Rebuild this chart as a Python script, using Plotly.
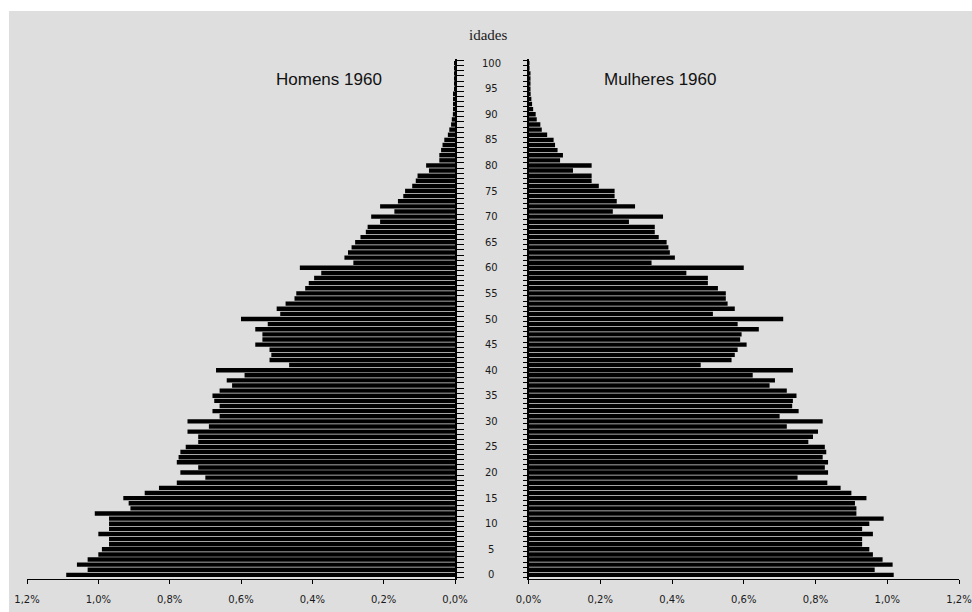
import plotly.graph_objects as go

ages = list(range(0, 101))

homens = [1.09, 1.03, 1.06, 1.03, 1.00, 0.99, 0.97, 0.97, 1.00, 0.97,
          0.97, 0.97, 1.01, 0.91, 0.915, 0.93, 0.87, 0.83, 0.78, 0.70,
          0.77, 0.72, 0.78, 0.775, 0.77, 0.755, 0.72, 0.72, 0.75, 0.69,
          0.75, 0.66, 0.68, 0.66, 0.675, 0.68, 0.66, 0.625, 0.64, 0.59,
          0.67, 0.465, 0.52, 0.515, 0.52, 0.56, 0.54, 0.54, 0.56, 0.525,
          0.60, 0.49, 0.50, 0.475, 0.45, 0.445, 0.42, 0.41, 0.395, 0.375,
          0.435, 0.285, 0.31, 0.30, 0.29, 0.28, 0.265, 0.25, 0.245, 0.21,
          0.235, 0.17, 0.21, 0.16, 0.145, 0.14, 0.12, 0.11, 0.105, 0.073,
          0.081, 0.044, 0.044, 0.039, 0.035, 0.03, 0.02, 0.016, 0.011, 0.009,
          0.006, 0.005, 0.004, 0.003, 0.003, 0.002, 0.002, 0.001, 0.001, 0.001,
          0.001]

mulheres = [1.018, 0.965, 1.015, 0.987, 0.96, 0.95, 0.93, 0.93, 0.96, 0.93,
            0.95, 0.99, 0.914, 0.914, 0.91, 0.942, 0.90, 0.87, 0.833, 0.75,
            0.835, 0.826, 0.835, 0.82, 0.83, 0.826, 0.78, 0.793, 0.807, 0.72,
            0.82, 0.70, 0.753, 0.735, 0.737, 0.747, 0.72, 0.672, 0.687, 0.625,
            0.737, 0.48, 0.566, 0.575, 0.583, 0.608, 0.59, 0.594, 0.642, 0.583,
            0.71, 0.514, 0.575, 0.555, 0.55, 0.55, 0.528, 0.50, 0.50, 0.44,
            0.60, 0.343, 0.408, 0.394, 0.39, 0.385, 0.363, 0.352, 0.352, 0.28,
            0.375, 0.235, 0.297, 0.246, 0.24, 0.24, 0.196, 0.176, 0.176, 0.124,
            0.176, 0.088, 0.096, 0.081, 0.074, 0.07, 0.052, 0.037, 0.033, 0.023,
            0.02, 0.013, 0.01, 0.008, 0.006, 0.005, 0.004, 0.003, 0.003, 0.002,
            0.002]

x_ticks = [0.0, 0.2, 0.4, 0.6, 0.8, 1.0, 1.2]
x_tick_labels = ["0,0%", "0,2%", "0,4%", "0,6%", "0,8%", "1,0%", "1,2%"]
age_labels = list(range(0, 101, 5))

title_left = "Homens 1960"
title_right = "Mulheres 1960"
axis_title = "idades"

BG = "#dedede"
INK = "#1a1a1a"
tickfont = dict(family="DejaVu Sans", size=10, color=INK)

fig = go.Figure()
fig.add_trace(go.Bar(y=ages, x=homens, orientation="h", xaxis="x", yaxis="y",
                     marker=dict(color="black", line=dict(width=0)), showlegend=False))
fig.add_trace(go.Bar(y=ages, x=mulheres, orientation="h", xaxis="x2", yaxis="y2",
                     marker=dict(color="black", line=dict(width=0)), showlegend=False))

W, H = 972, 612
ml, mr, mt, mb = 27, 13, 59, 33
pw = W - ml - mr
ph = H - mt - mb

def px(xp):
    return (xp - ml) / pw

def py(yp):
    return (H - mb - yp) / ph

xcommon = dict(tickvals=x_ticks, ticktext=x_tick_labels, showline=True,
               linecolor="black", linewidth=1, ticks="outside", ticklen=4,
               tickcolor="black", showgrid=False, zeroline=False, tickfont=tickfont,
               ticklabelstandoff=7, automargin=False, fixedrange=True)

ycommon = dict(range=[-0.8, 100.8], showline=True, linecolor="black", linewidth=1.5,
               ticks="outside", tickcolor="black", tickmode="linear", tick0=0.5, dtick=1,
               showticklabels=False, showgrid=False, zeroline=False,
               automargin=False, fixedrange=True)

fig.update_layout(
    width=W, height=H,
    margin=dict(l=ml, r=mr, t=mt, b=mb, autoexpand=False),
    paper_bgcolor="white", plot_bgcolor="rgba(0,0,0,0)",
    bargap=0.14,
    xaxis=dict(domain=[0, px(455)], range=[1.2, 0], anchor="y", **xcommon),
    xaxis2=dict(domain=[px(528.5), 1], range=[0, 1.2], anchor="y2", **xcommon),
    yaxis=dict(anchor="x", side="right", ticklen=7, **ycommon),
    yaxis2=dict(anchor="x2", side="left", ticklen=4, **ycommon),
)

shapes = [
    dict(type="rect", xref="paper", yref="paper", x0=px(9), x1=px(W),
         y0=py(H), y1=py(11), fillcolor=BG, line=dict(width=0), layer="below"),
]
fig.update_layout(shapes=shapes)

ann = []
for a in age_labels:
    ann.append(dict(x=px(491), xref="paper", y=a, yref="y", text=str(a),
                    showarrow=False, xanchor="center", yanchor="middle",
                    font=dict(family="DejaVu Sans", size=10, color=INK)))
ann.append(dict(x=px(329), xref="paper", y=py(80), yref="paper", text=title_left,
                showarrow=False, xanchor="center", yanchor="middle",
                font=dict(family="Liberation Sans", size=17, color="#111111")))
ann.append(dict(x=px(660), xref="paper", y=py(80), yref="paper", text=title_right,
                showarrow=False, xanchor="center", yanchor="middle",
                font=dict(family="Liberation Sans", size=17, color="#111111")))
ann.append(dict(x=px(488), xref="paper", y=py(35), yref="paper", text=axis_title,
                showarrow=False, xanchor="center", yanchor="middle",
                font=dict(family="Liberation Serif", size=15, color=INK)))
fig.update_layout(annotations=ann)

post = ("document.body.style.margin='0px';"
        "document.body.style.overflow='hidden';")
fig.write_html("out.html", config={"displayModeBar": False}, post_script=post)
